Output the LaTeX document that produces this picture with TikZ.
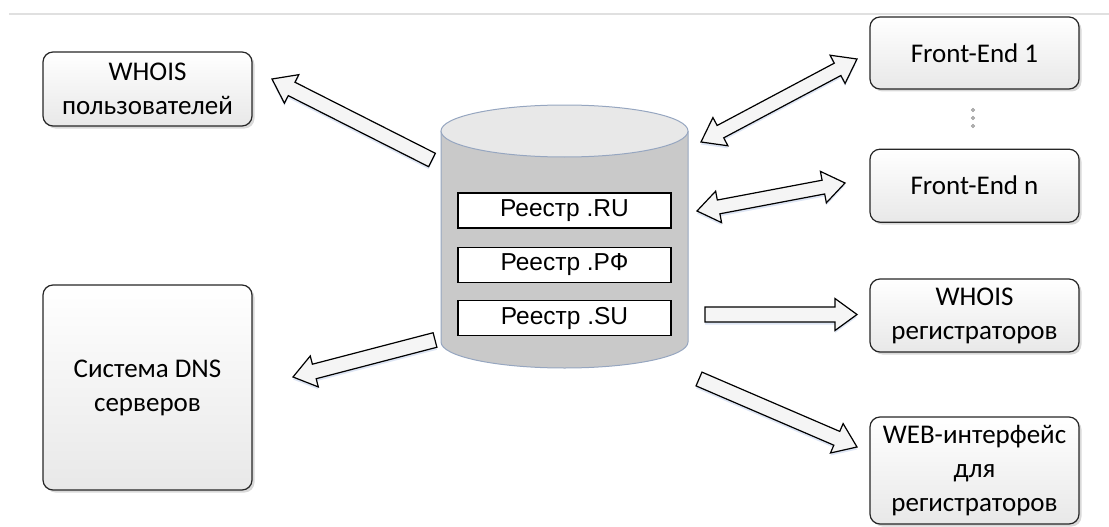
\documentclass[tikz,border=0pt]{standalone}
\usepackage{fontspec}
\setmainfont{Carlito}
\newfontfamily\arialfont{Liberation Sans}
\usetikzlibrary{positioning,calc,shadows}

\definecolor{dbedge}{RGB}{150,166,192}
\definecolor{glow}{RGB}{120,150,210}

\tikzstyle{block} = [rectangle, rounded corners=10pt, draw=black!85, line width=1.2pt, top color=white, bottom color=black!9, align=center, text centered, minimum width=209pt, font=\fontsize{27}{34}\selectfont, drop shadow={shadow xshift=2.5pt, shadow yshift=-2.5pt, opacity=0.3}]
\tikzstyle{reg} = [rectangle, draw=black, line width=1.3pt, fill=white, minimum width=213pt, minimum height=35pt, inner sep=0pt, font=\arialfont\fontsize{24.5}{28}\selectfont]
\tikzstyle{bigarrow} = [draw=black, line width=1.2pt, fill=black!4, line join=miter, drop shadow={fill=glow, opacity=0.25, shadow xshift=0pt, shadow yshift=-2.5pt}]

% block arrow from #1 to #2
\newcommand{\blockarrow}[2]{%
  \coordinate (ha) at ($(#2)!22pt!(#1)$);
  \draw[bigarrow] ($(#1)!7.5pt!90:(#2)$) -- ($(ha)!7.5pt!90:(#2)$) -- ($(ha)!16pt!90:(#2)$) -- (#2)
    -- ($(ha)!16pt!-90:(#2)$) -- ($(ha)!7.5pt!-90:(#2)$) -- ($(#1)!7.5pt!-90:(#2)$) -- cycle;}
% block arrow with two heads
\newcommand{\blockdarrow}[2]{%
  \coordinate (ha) at ($(#2)!22pt!(#1)$);
  \coordinate (hb) at ($(#1)!22pt!(#2)$);
  \draw[bigarrow] ($(hb)!7pt!-90:(#1)$) -- ($(ha)!7pt!90:(#2)$) -- ($(ha)!16pt!90:(#2)$) -- (#2)
    -- ($(ha)!16pt!-90:(#2)$) -- ($(ha)!7pt!-90:(#2)$) -- ($(hb)!7pt!90:(#1)$) -- ($(hb)!16pt!90:(#1)$)
    -- (#1) -- ($(hb)!16pt!-90:(#1)$) -- cycle;}

\begin{document}
\begin{tikzpicture}[x=1pt, y=-1pt, node distance=18pt]
\useasboundingbox (0,0) rectangle (1109,527);

\draw[black!12, line width=1.5pt] (9,14) -- (1109,14);

% database
\fill[black!21] (441,131) -- (441,342) arc[start angle=180, end angle=360, x radius=123.5pt, y radius=26pt] -- (688,131) -- cycle;
\draw[dbedge, line width=1pt] (441,131) -- (441,342) arc[start angle=180, end angle=360, x radius=123.5pt, y radius=26pt] -- (688,131);
\draw[dbedge, line width=1pt, fill=black!9] (564.5,131) ellipse [x radius=123.5pt, y radius=26pt];

\node (ru) [reg] at (564.5,210.5) {Реестр .RU};
\node (rf) [reg, below=of ru] {Реестр .РФ};
\node (su) [reg, below=17pt of rf] {Реестр .SU};

% left side
\node (users) [block, minimum height=74pt] at (147.5,89) {WHOIS\\пользователей};
\node (dns) [block, minimum height=205pt] at (147.5,387.5) {Система DNS\\серверов};

% right side
\node (fe1) [block, minimum height=72pt] at (974.5,53) {Front-End 1};
\node (fen) [block, minimum height=73pt, below=59pt of fe1] {Front-End n};
\node (whoisreg) [block, minimum height=73pt] at (974.5,315.5) {WHOIS\\регистраторов};
\node (web) [block, minimum height=107pt] at (974.5,470.5) {WEB-интерфейс\\для\\регистраторов};

\foreach \y in {110,118,126}
  \filldraw[black!30, draw=black!40, line width=0.4pt] (973,\y) circle (1.8pt);

% arrow ends
\coordinate (usersfrom) at (432,160);
\coordinate (usersto) at (272,79);
\coordinate (dnsfrom) at (435,340);
\coordinate (dnsto) at (293,377);
\coordinate (fe1a) at (701,142);
\coordinate (fe1b) at (857,59);
\coordinate (fena) at (697,211);
\coordinate (fenb) at (845,183);
\coordinate (regfrom) at (705,314.5);
\coordinate (regto) at (857,314.5);
\coordinate (webfrom) at (699,379);
\coordinate (webto) at (857,447);

\blockarrow{usersfrom}{usersto}
\blockarrow{dnsfrom}{dnsto}
\blockdarrow{fe1a}{fe1b}
\blockdarrow{fena}{fenb}
\blockarrow{regfrom}{regto}
\blockarrow{webfrom}{webto}
\end{tikzpicture}
\end{document}
